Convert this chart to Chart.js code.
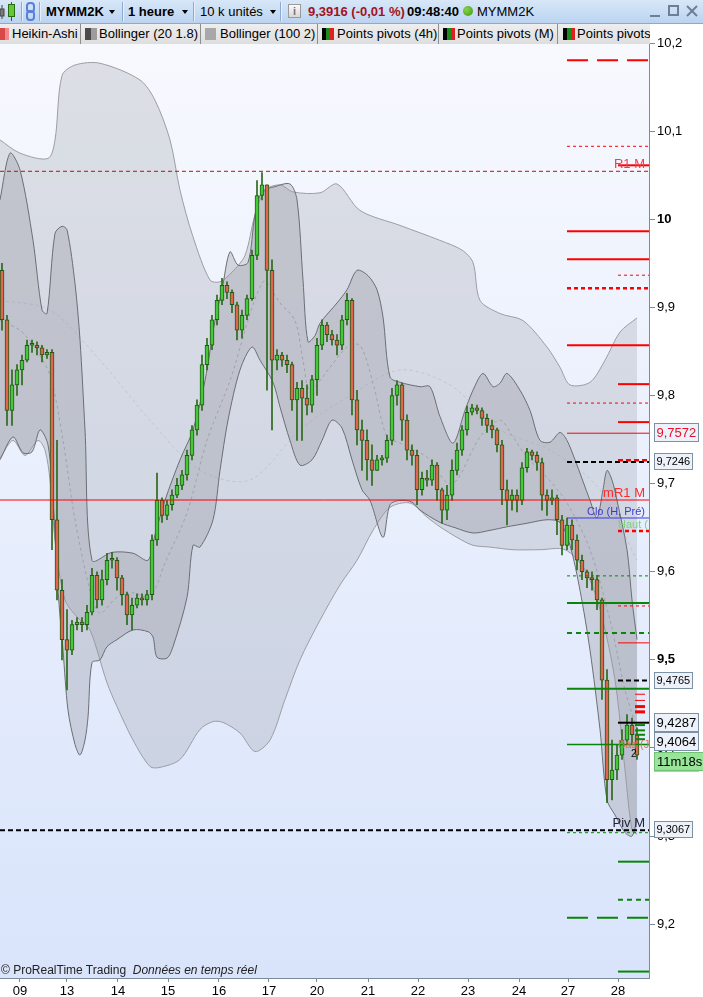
<!DOCTYPE html>
<html><head><meta charset="utf-8">
<script src="https://cdn.jsdelivr.net/npm/chart.js@4.4.1/dist/chart.umd.min.js"></script>
<style>
html,body{margin:0;padding:0;background:#fff;}
body{width:703px;height:997px;position:relative;overflow:hidden;font-family:"Liberation Sans",Arial,sans-serif;}
#c{position:absolute;left:0;top:0;}
#titlebar{position:absolute;left:0;top:0;width:703px;height:23px;background:linear-gradient(#d8e7f8,#bbd3f0);border-bottom:1px solid #8fa9c9;font-size:13px;color:#000;}
#titlebar span{position:absolute;top:4px;line-height:15px;white-space:nowrap;}
.sep{position:absolute;top:2px;width:1px;height:19px;background:#8eaad0;box-shadow:1px 0 0 #e6f0fb;}
.dd{position:absolute;top:10px;width:0;height:0;border-left:3.5px solid transparent;border-right:3.5px solid transparent;border-top:4px solid #000;}
#legend{position:absolute;left:0;top:24px;width:650px;height:20px;background:#e4e4e4;font-size:13px;overflow:hidden;}
.tab{position:absolute;top:0;height:20px;border-right:1px solid #8e8e8e;background:linear-gradient(#eeeeee,#dedede);overflow:hidden;}
.tab span{position:absolute;top:2px;white-space:nowrap;line-height:16px;color:#000;}
.ico{position:absolute;top:4px;height:12px;}
#footer{position:absolute;left:1px;top:963px;font-size:12px;line-height:15px;color:#222;white-space:nowrap;}
</style>
</head>
<body>
<canvas id="c" width="703" height="997" style="width:703px;height:997px"></canvas>

<div id="titlebar">
  <svg style="position:absolute;left:0;top:1px" width="18" height="21">
    <line x1="2" y1="4" x2="2" y2="18" stroke="#444"/>
    <rect x="0" y="8" width="4" height="7" fill="#7a7a7a" stroke="#444"/>
    <line x1="11.5" y1="1" x2="11.5" y2="20" stroke="#2a6a10"/>
    <rect x="8.5" y="3.5" width="6" height="12" fill="#62c836" stroke="#2a6a10"/>
  </svg>
  <div class="sep" style="left:21px"></div>
  <svg style="position:absolute;left:25px;top:2px" width="12" height="20">
    <rect x="2" y="1" width="7" height="9" rx="3" fill="none" stroke="#5a7fd8" stroke-width="2"/>
    <rect x="2" y="9" width="7" height="9" rx="3" fill="none" stroke="#5a7fd8" stroke-width="2"/>
  </svg>
  <div class="sep" style="left:39px"></div>
  <span style="left:46px;font-weight:bold">MYMM2K</span>
  <div class="dd" style="left:109px"></div>
  <div class="sep" style="left:122px"></div>
  <span style="left:128px;font-weight:bold">1 heure</span>
  <div class="dd" style="left:182px"></div>
  <div class="sep" style="left:193px"></div>
  <span style="left:200px">10 k unités</span>
  <div class="dd" style="left:270px"></div>
  <div class="sep" style="left:280px"></div>
  <div style="position:absolute;left:288px;top:4px;width:13px;height:14px;background:linear-gradient(#fafafa,#d8d8d8);border:1px solid #9a9a9a;box-sizing:border-box;font-size:11px;line-height:12px;text-align:center;color:#777;font-weight:bold">i</div>
  <span style="left:308px;font-weight:bold;color:#a3121c">9,3916 (-0,01 %)</span>
  <span style="left:407px;font-weight:bold">09:48:40</span>
  <div style="position:absolute;left:463px;top:6px;width:10px;height:10px;border-radius:50%;background:radial-gradient(circle at 35% 35%,#8ad050,#3c9a10)"></div>
  <span style="left:477px">MYMM2K</span>
  <div style="position:absolute;left:650px;top:15px;width:10px;height:2px;background:#6d7f94"></div>
  <div style="position:absolute;left:668px;top:5px;width:11px;height:11px;border:2px solid #6d7f94;box-sizing:border-box"></div>
  <svg style="position:absolute;left:686px;top:5px" width="12" height="12">
    <line x1="1" y1="1" x2="11" y2="11" stroke="#6d7f94" stroke-width="2"/>
    <line x1="11" y1="1" x2="1" y2="11" stroke="#6d7f94" stroke-width="2"/>
  </svg>
</div>

<div id="legend">
  <div class="tab" style="left:0;width:80px">
    <div class="ico" style="left:0;width:9px;background:linear-gradient(90deg,#d84848 0 55%,#f08a8a 55%)"></div>
    <span style="left:12px">Heikin-Ashi</span>
  </div>
  <div class="tab" style="left:81px;width:119px">
    <div class="ico" style="left:4px;width:12px;background:linear-gradient(90deg,#4a4a4a 0 50%,#9c9c9c 50%)"></div>
    <span style="left:18px">Bollinger (20 1.8)</span>
  </div>
  <div class="tab" style="left:201px;width:116px">
    <div class="ico" style="left:4px;width:11px;background:#a8a8a8"></div>
    <span style="left:19px">Bollinger (100 2)</span>
  </div>
  <div class="tab" style="left:318px;width:120px">
    <div class="ico" style="left:4px;width:12px;background:linear-gradient(90deg,#000 0 33%,#1a8a1a 33% 66%,#e02020 66%)"></div>
    <span style="left:19px">Points pivots (4h)</span>
  </div>
  <div class="tab" style="left:439px;width:118px">
    <div class="ico" style="left:4px;width:12px;background:linear-gradient(90deg,#000 0 33%,#1a8a1a 33% 66%,#e02020 66%)"></div>
    <span style="left:18px">Points pivots (M)</span>
  </div>
  <div class="tab" style="left:558px;width:92px;border-right:none">
    <div class="ico" style="left:5px;width:12px;background:linear-gradient(90deg,#000 0 33%,#1a8a1a 33% 66%,#e02020 66%)"></div>
    <span style="left:19px">Points pivots</span>
  </div>
</div>

<div id="footer">© ProRealTime Trading&nbsp; <i>Données en temps réel</i></div>

<script>
// ---------------- DATA ----------------
const dayLabels = ['09','13','14','15','16','17','20','21','22','23','24','27','28'];
const dayTickIdx = [3.6,13,23.2,33.2,43.4,53.4,63,73.2,83.2,93.2,103.4,113.2,123.2];
const yTickValues = [9.2,9.3,9.4,9.5,9.6,9.7,9.8,9.9,10.0,10.1,10.2];

// Heikin-Ashi candles (1 hour)
const haOpen = [9.942,9.886,9.783,9.812,9.829,9.840,9.857,9.857,9.854,9.846,
9.849,9.659,9.579,9.523,9.511,9.540,9.543,9.540,9.554,9.596,
9.568,9.591,9.613,9.613,9.593,9.574,9.551,9.562,9.570,9.568,
9.574,9.636,9.681,9.664,9.676,9.687,9.698,9.710,9.732,9.761,
9.789,9.835,9.857,9.886,9.908,9.925,9.917,9.903,9.874,9.891,
9.910,9.959,10.027,10.039,9.942,9.840,9.846,9.840,9.835,9.795,
9.808,9.797,9.789,9.818,9.857,9.880,9.869,9.863,9.857,9.886,
9.908,9.795,9.761,9.749,9.727,9.715,9.727,9.729,9.749,9.800,
9.812,9.772,9.738,9.732,9.693,9.706,9.704,9.721,9.693,9.670,
9.687,9.715,9.738,9.761,9.781,9.786,9.783,9.774,9.766,9.761,
9.744,9.693,9.681,9.687,9.681,9.718,9.736,9.732,9.724,9.687,
9.681,9.684,9.659,9.630,9.653,9.636,9.613,9.600,9.593,9.591,
9.568,9.477,9.364,9.375,9.392,9.409,9.426,9.415];
const haHigh = [9.950,9.891,9.829,9.835,9.846,9.863,9.863,9.861,9.857,9.852,
9.852,9.749,9.591,9.557,9.545,9.548,9.548,9.562,9.604,9.600,
9.602,9.621,9.622,9.616,9.596,9.577,9.570,9.575,9.575,9.579,
9.642,9.712,9.684,9.681,9.693,9.706,9.715,9.738,9.766,9.795,
9.846,9.865,9.891,9.914,9.933,9.929,9.920,9.906,9.897,9.914,
9.965,10.044,10.053,10.039,9.954,9.852,9.849,9.846,9.838,9.815,
9.817,9.812,9.823,9.865,9.886,9.883,9.874,9.869,9.891,9.916,
9.910,9.806,9.772,9.761,9.744,9.732,9.732,9.755,9.808,9.817,
9.814,9.778,9.744,9.738,9.713,9.715,9.727,9.724,9.695,9.698,
9.727,9.746,9.766,9.788,9.790,9.789,9.786,9.779,9.772,9.763,
9.749,9.704,9.693,9.693,9.724,9.740,9.738,9.736,9.729,9.693,
9.693,9.687,9.664,9.661,9.659,9.642,9.619,9.602,9.600,9.596,
9.570,9.489,9.409,9.404,9.421,9.438,9.434,9.423];
const haLow = [9.874,9.766,9.766,9.800,9.812,9.838,9.849,9.846,9.838,9.842,
9.625,9.568,9.500,9.466,9.506,9.534,9.532,9.534,9.551,9.559,
9.562,9.585,9.604,9.579,9.562,9.540,9.534,9.559,9.562,9.562,
9.568,9.630,9.656,9.659,9.670,9.684,9.693,9.704,9.727,9.755,
9.783,9.829,9.852,9.880,9.903,9.910,9.894,9.863,9.865,9.886,
9.908,9.954,10.022,9.806,9.761,9.829,9.833,9.826,9.783,9.749,
9.749,9.778,9.781,9.800,9.852,9.861,9.857,9.846,9.852,9.880,
9.778,9.744,9.715,9.704,9.698,9.715,9.721,9.724,9.744,9.789,
9.749,9.727,9.721,9.676,9.687,9.697,9.698,9.681,9.655,9.659,
9.681,9.710,9.732,9.755,9.778,9.779,9.766,9.758,9.752,9.736,
9.676,9.653,9.670,9.668,9.676,9.713,9.727,9.715,9.670,9.664,
9.676,9.642,9.619,9.625,9.625,9.602,9.591,9.582,9.579,9.557,
9.455,9.338,9.341,9.364,9.387,9.404,9.404,9.387];
const haClose = [9.886,9.783,9.812,9.829,9.840,9.857,9.857,9.854,9.846,9.849,
9.659,9.579,9.523,9.511,9.540,9.543,9.540,9.554,9.596,9.568,
9.591,9.613,9.613,9.593,9.574,9.551,9.562,9.570,9.568,9.574,
9.636,9.681,9.664,9.676,9.687,9.698,9.710,9.732,9.761,9.789,
9.835,9.857,9.886,9.908,9.925,9.917,9.903,9.874,9.891,9.910,
9.959,10.027,10.039,9.942,9.840,9.846,9.840,9.835,9.795,9.808,
9.797,9.789,9.818,9.857,9.880,9.869,9.863,9.857,9.886,9.908,
9.795,9.761,9.749,9.727,9.715,9.727,9.729,9.749,9.800,9.812,
9.772,9.738,9.732,9.693,9.706,9.704,9.721,9.693,9.670,9.687,
9.715,9.738,9.761,9.781,9.786,9.783,9.774,9.766,9.761,9.744,
9.693,9.681,9.687,9.681,9.718,9.736,9.732,9.724,9.687,9.681,
9.684,9.659,9.630,9.653,9.636,9.613,9.600,9.593,9.591,9.568,
9.477,9.364,9.375,9.392,9.409,9.426,9.415,9.392];

// Bollinger (100, 2)
const bb100UpperIdx = [-0.4,3.6,9.2,10.6,12,14.6,19.6,27.6,30.6,33.6,35.6,38.2,41.6,43.6,46,48.6,50.6,52.6,55.6,58.2,63.6,67,71.6,79.6,87.6,92,94.2,95.6,99.6,104.2,109,111.6,113.6,117.6,120.6,123.6,127];
const bb100Upper = [10.090,10.075,10.069,10.090,10.163,10.175,10.177,10.158,10.135,10.090,10.033,9.980,9.931,9.929,9.940,9.959,10.005,10.033,10.039,10.031,10.030,10.040,10.010,9.993,9.976,9.965,9.951,9.908,9.893,9.885,9.855,9.832,9.812,9.815,9.840,9.872,9.888];
const bb100LowerIdx = [-0.4,2.2,4.6,7.2,8.6,9.6,10.6,12.6,15.6,17.6,21,23,26.2,29.6,31.6,35.6,39.6,42.2,44.2,47.6,50.6,53.6,56.6,59.6,63.6,67.6,71,74.2,77.6,81.6,85,87.6,91,94.2,97.6,102.2,107.6,112.6,116.6,119.6,122.6,124.6,126,127];
const bb100Lower = [9.729,9.749,9.732,9.749,9.738,9.704,9.636,9.568,9.545,9.534,9.474,9.447,9.409,9.379,9.378,9.387,9.421,9.430,9.429,9.417,9.396,9.409,9.455,9.500,9.545,9.585,9.613,9.647,9.673,9.678,9.662,9.651,9.639,9.630,9.628,9.625,9.625,9.625,9.602,9.557,9.477,9.375,9.307,9.302];
const bb100MidIdx = [-0.4,9.6,19.6,29.6,39.6,49.6,59.6,69.6,79.6,89.6,99.6,109.6,119.6,127];
const bb100Mid = [9.908,9.897,9.840,9.772,9.715,9.704,9.761,9.800,9.829,9.812,9.761,9.738,9.693,9.613];

// Bollinger (20, 1.8)
const bb20UpperIdx = [-0.4,1.6,3.6,6.2,8,9,10.6,12,13,14.6,15.6,16.6,18,22,26.2,29.2,30.6,32.6,35.6,38.2,40.6,42.6,44,45.6,47.2,49.2,50.6,52,54.6,57.6,59,60.2,61.2,62.6,63.6,67,69,71,73.2,75,76.2,77.6,79.6,83.6,85.6,87.6,90.2,92.6,94.2,96.2,98.2,99.6,101,103.6,105.6,107.6,109.6,111.6,113,114.6,117.6,119,120.2,121,122,123,125,126,127];
const bb20Upper = [10.022,10.075,10.056,9.976,9.897,9.893,9.984,9.992,9.988,9.927,9.863,9.761,9.613,9.622,9.621,9.613,9.642,9.681,9.727,9.761,9.817,9.885,9.920,9.963,9.948,9.951,10.005,10.031,10.037,10.040,10.022,9.931,9.861,9.868,9.882,9.905,9.920,9.942,9.936,9.920,9.889,9.821,9.815,9.810,9.810,9.776,9.746,9.783,9.806,9.825,9.810,9.814,9.825,9.806,9.783,9.749,9.747,9.758,9.749,9.727,9.681,9.661,9.693,9.715,9.704,9.681,9.625,9.568,9.523];
const bb20LowerIdx = [-0.4,2.2,4.2,6,7.6,9.2,10.2,11.2,12.2,13.2,14.6,15.6,16.6,17.2,18,19.6,21,23,26.2,29.2,30.2,31,33,34.2,37,38.2,39.6,42.2,43.6,45.2,47.6,50,51.6,54.2,55.6,57.6,59.6,62,64,66,68,70,72,73.6,76.2,77.6,79.6,82,83.6,87.6,90.6,94.2,97.6,101,105,109,111.6,113.6,115.6,117.6,119.6,121,122.6,124.6,126,127];
const bb20Lower = [9.727,9.753,9.735,9.736,9.761,9.744,9.681,9.579,9.511,9.443,9.404,9.392,9.409,9.435,9.497,9.500,9.515,9.523,9.534,9.532,9.526,9.503,9.502,9.515,9.571,9.630,9.628,9.659,9.715,9.772,9.829,9.855,9.840,9.815,9.787,9.749,9.721,9.727,9.749,9.772,9.763,9.727,9.693,9.681,9.639,9.676,9.681,9.679,9.670,9.656,9.650,9.644,9.647,9.651,9.655,9.659,9.656,9.630,9.579,9.511,9.421,9.341,9.324,9.304,9.300,9.319];
const bb20MidIdx = [-0.4,3.6,6.2,9.6,12.2,14.6,17.6,19.6,23,26.2,29.6,32.6,37,41,45.6,52.2,55.6,58.6,60.2,61.6,65.6,69,71.6,74.2,77,79.6,85,89,91,95.6,99.6,102.2,105,109,113,117.6,121.6,124.6,127];
const bb20Mid = [9.885,9.874,9.857,9.823,9.749,9.659,9.579,9.553,9.571,9.576,9.571,9.610,9.667,9.749,9.817,9.929,9.905,9.885,9.840,9.806,9.832,9.855,9.857,9.814,9.753,9.746,9.730,9.701,9.704,9.753,9.772,9.753,9.730,9.707,9.678,9.625,9.545,9.466,9.421];

// Pivot levels
const pivotMonthStart = 113;
const pivot4hStart = 123.2;
const pivotCurStart = 126.6;
const pivotsMonthly = [10.1803,10.0828,9.9864,9.9546,9.9218,9.8571,9.7914,9.7572,9.7246,9.6610,9.5953,9.5646,9.5306,9.4671,9.4040,9.3039,9.2075];
const pivots4h = [10.0612,9.9365,9.8129,9.7698,9.7265,9.6463,9.6463,9.5612,9.5193,9.4765,9.4287,9.2710,9.2279,9.1463];
const pivotsFull = [10.0544,9.6814,9.3067];
const pivotsCurRed = [9.461,9.454,9.447,9.441];
const pivotsCurGreen = [9.426,9.420,9.415,9.410];

const pivotLabelTexts = ['R1 M','mR1 M','Clo (H, Pré)','Haut (','Piv M','Bas (J','2'];
const pivotLabelPrices = [10.0544,9.6814,9.6610,9.6463,9.3067,9.4040,9.3930];

const axisBoxValues = [9.7572,9.7246,9.4765,9.4287,9.4064,9.3067];
const lastPrice = 9.3916;
const countdownText = '11m18s';

// ---------------- STYLES ----------------
const FONT = '"Liberation Sans", Arial, sans-serif';
const RED = '#ff0000', GRN = '#0a850a', BLK = '#000000', BLU = '#3a3ae0';
const monthStyles = [
  {c:RED,w:2,d:[21,9]},{c:RED,w:1,d:[3,3]},{c:RED,w:2,d:[]},{c:RED,w:2,d:[]},
  {c:RED,w:2.5,d:[4,3]},{c:RED,w:2,d:[]},{c:RED,w:1,d:[3,3]},{c:RED,w:1,d:[]},
  {c:BLK,w:2,d:[5,3]},{c:BLU,w:1,d:[]},{c:GRN,w:1,d:[3,3]},{c:GRN,w:2,d:[]},
  {c:GRN,w:2,d:[5,4]},{c:GRN,w:2,d:[]},{c:GRN,w:1.5,d:[]},{c:GRN,w:1,d:[3,3]},
  {c:GRN,w:2,d:[21,9]}
];
const h4Styles = [
  {c:RED,w:2,d:[]},{c:RED,w:1,d:[3,3]},{c:RED,w:2,d:[]},{c:RED,w:2,d:[]},
  {c:RED,w:2.5,d:[5,3]},{c:RED,w:2.5,d:[4,3]},{c:'#6ccf6c',w:1,d:[2,5]},{c:RED,w:1,d:[3,3]},
  {c:RED,w:1,d:[]},{c:BLK,w:2,d:[5,3]},{c:BLK,w:2,d:[]},{c:GRN,w:2,d:[]},
  {c:GRN,w:2,d:[5,4]},{c:GRN,w:2,d:[]}
];
const fullStyles = [{c:'#e00000',w:1,d:[4,3]},{c:RED,w:1,d:[]},{c:BLK,w:2,d:[5,3]}];

const labelStyles = [
  {color:'#f23a52',size:13,anchor:'right',dy:-3,base:'alphabetic'},
  {color:'#ff2a2a',size:13,anchor:'right',dy:-3,base:'alphabetic'},
  {color:'#3a3ad2',size:11,anchor:'right',dy:-3,base:'alphabetic'},
  {color:'#7fd07f',size:11,anchor:'h4',dy:-3,base:'alphabetic'},
  {color:'#23233a',size:13,anchor:'right',dy:-3,base:'alphabetic'},
  {color:'#e26a58',size:11,anchor:'h4',dy:0,base:'middle'},
  {color:'#000000',size:10,anchor:'h4',dx:13,dy:0,base:'middle'}
];
const boxStyles = [
  {color:'#e8102a',size:13},{color:'#000',size:11},{color:'#000',size:11},
  {color:'#000',size:13},{color:'#000',size:13},{color:'#000',size:11}
];

// ---------------- BUILD ----------------
const pts = (xs, ys) => xs.map((x, i) => ({x, y: ys[i]}));
const idx = haClose.map((_, i) => i);
const upCol = '#45c83a', dnCol = '#e0664f';

function bandLine(xs, ys, color, order, extra) {
  return Object.assign({type:'line', data: pts(xs, ys), borderColor: color, borderWidth: 1,
    pointRadius: 0, tension: 0.3, fill: false, order}, extra || {});
}
function hLine(price, x0, x1, st) {
  return {type:'line', data:[{x:x0,y:price},{x:x1,y:price}], borderColor: st.c, borderWidth: st.w,
    borderDash: st.d, pointRadius: 0, fill: false, tension: 0, order: 0, borderCapStyle: 'butt'};
}

const XMIN = -0.4, XMAX = 129.4;
const datasets = [
  bandLine(bb100UpperIdx, bb100Upper, '#9c9ea4', 30, {fill:'+1', backgroundColor:'rgba(160,162,172,0.30)'}),
  bandLine(bb100LowerIdx, bb100Lower, '#9c9ea4', 29),
  bandLine(bb100MidIdx, bb100Mid, 'rgba(170,172,180,0.45)', 28, {borderDash:[3,3]}),
  bandLine(bb20UpperIdx, bb20Upper, '#6c6e74', 27, {fill:'+1', backgroundColor:'rgba(148,150,158,0.33)'}),
  bandLine(bb20LowerIdx, bb20Lower, '#6c6e74', 26),
  bandLine(bb20MidIdx, bb20Mid, '#a0a2a8', 25, {borderDash:[3,3]}),
  {type:'bar', data: idx.map(i => ({x:i, y:[haLow[i], haHigh[i]]})), backgroundColor:'#2a6818',
    barThickness: 1, grouped: false, order: 3, borderWidth: 0},
  {type:'bar', data: idx.map(i => ({x:i, y:[haOpen[i], haClose[i]]})),
    backgroundColor: idx.map(i => haClose[i] >= haOpen[i] ? upCol : dnCol),
    borderColor:'#1f5a12', borderWidth: 1, borderSkipped: false, barThickness: 4,
    minBarLength: 2, grouped: false, order: 2}
];
pivotsMonthly.forEach((p, i) => datasets.push(hLine(p, pivotMonthStart, XMAX, monthStyles[i])));
pivots4h.forEach((p, i) => datasets.push(hLine(p, pivot4hStart, XMAX, h4Styles[i])));
pivotsFull.forEach((p, i) => datasets.push(hLine(p, XMIN, XMAX, fullStyles[i])));
pivotsCurRed.forEach((p, i) => datasets.push(hLine(p, pivotCurStart, pivotCurStart + 2, {c:RED, w: i < 2 ? 1 : 3, d:[]})));
pivotsCurGreen.forEach(p => datasets.push(hLine(p, pivotCurStart, pivotCurStart + 2, {c:GRN, w:2, d:[]})));

const fmt = v => (Math.round(v * 10) / 10).toString().replace('.', ',');
const fmt4 = v => v.toFixed(4).replace('.', ',');

const bgPlugin = {
  id: 'bg',
  beforeDraw(chart) {
    const {ctx, chartArea: a} = chart;
    ctx.save();
    ctx.fillStyle = '#ffffff';
    ctx.fillRect(0, 0, chart.width, chart.height);
    const g = ctx.createLinearGradient(0, a.top, 0, a.bottom);
    g.addColorStop(0, '#f7f9fe');
    g.addColorStop(1, '#d9e4fb');
    ctx.fillStyle = g;
    ctx.fillRect(a.left, a.top, a.right - a.left, a.bottom - a.top);
    ctx.restore();
  }
};

const labelPlugin = {
  id: 'pivotLabels',
  afterDatasetsDraw(chart) {
    const {ctx, chartArea: a, scales: {x, y}} = chart;
    ctx.save();
    ctx.beginPath();
    ctx.rect(a.left, a.top, a.right - a.left, a.bottom - a.top);
    ctx.clip();
    pivotLabelTexts.forEach((t, i) => {
      const s = labelStyles[i];
      ctx.font = s.size + 'px ' + FONT;
      ctx.fillStyle = s.color;
      ctx.textBaseline = s.base;
      const py = y.getPixelForValue(pivotLabelPrices[i]) + s.dy;
      if (s.anchor === 'right') {
        ctx.textAlign = 'right';
        ctx.fillText(t, a.right - 4, py);
      } else {
        ctx.textAlign = 'left';
        ctx.fillText(t, x.getPixelForValue(pivot4hStart) + (s.dx || 0), py);
      }
    });
    ctx.restore();
  }
};

const boxPlugin = {
  id: 'axisBoxes',
  afterDraw(chart) {
    const {ctx, scales: {y}} = chart;
    const left = chart.chartArea.right + 5;
    ctx.save();
    ctx.textBaseline = 'middle';
    ctx.textAlign = 'left';
    let lastBottom = 0;
    axisBoxValues.forEach((v, i) => {
      const s = boxStyles[i];
      const t = fmt4(v);
      ctx.font = s.size + 'px ' + FONT;
      const w = Math.round(ctx.measureText(t).width) + 5;
      const h = s.size + 6;
      const cy = Math.round(y.getPixelForValue(v));
      let top = cy - Math.round(h / 2);
      ctx.fillStyle = '#edf2fa';
      ctx.fillRect(left, top, w, h);
      ctx.strokeStyle = '#7d91a4';
      ctx.lineWidth = 1;
      ctx.strokeRect(left + 0.5, top + 0.5, w - 1, h - 1);
      ctx.fillStyle = s.color;
      ctx.fillText(t, left + 2.5, top + h / 2 + 0.5);
      if (i === 4) lastBottom = top + h;
    });
    // countdown box under the current price box
    ctx.font = '13px ' + FONT;
    const tw = Math.round(ctx.measureText(countdownText).width) + 6;
    const ch = 19;
    const ctop = Math.max(Math.round(y.getPixelForValue(lastPrice)) - 4, lastBottom + 1);
    ctx.fillStyle = '#98e498';
    ctx.fillRect(left, ctop, tw, ch);
    ctx.fillStyle = '#e6cf22';
    ctx.fillRect(left, ctop + ch - 2, tw - 6, 3);
    ctx.strokeStyle = '#74c074';
    ctx.strokeRect(left + 0.5, ctop + 0.5, tw - 1, ch - 1);
    ctx.fillStyle = '#000';
    ctx.fillText(countdownText, left + 3, ctop + ch / 2 + 0.5);
    ctx.restore();
  }
};

Chart.defaults.font.family = FONT;
new Chart(document.getElementById('c'), {
  type: 'bar',
  data: { datasets },
  options: {
    responsive: false,
    maintainAspectRatio: false,
    devicePixelRatio: 1,
    animation: false,
    events: [],
    layout: { padding: { top: 43, left: 0, right: 0, bottom: 0 } },
    plugins: { legend: { display: false }, tooltip: { enabled: false } },
    scales: {
      x: {
        type: 'linear', min: XMIN, max: XMAX, offset: false,
        grid: { drawOnChartArea: false, offset: false, tickLength: 4, color: '#7b8b9b' },
        border: { color: '#7b8b9b' },
        afterBuildTicks: s => { s.ticks = dayTickIdx.map(v => ({ value: v })); },
        afterFit: s => { s.height = 19; },
        ticks: { autoSkip: false, maxRotation: 0, padding: 2, color: '#000',
          font: { size: 13, family: FONT },
          callback: (v, i) => dayLabels[i] }
      },
      y: {
        type: 'linear', position: 'right', min: 9.139, max: 10.2,
        grid: { drawOnChartArea: false, tickLength: 6, color: '#7b8b9b' },
        border: { color: '#7b8b9b' },
        afterBuildTicks: s => { s.ticks = yTickValues.map(v => ({ value: v })); },
        afterFit: s => { s.width = 54; },
        ticks: { padding: 2, color: '#000',
          font: ctx => ({ size: 13, family: FONT,
            weight: (ctx.tick && (Math.abs(ctx.tick.value - 10) < 1e-6 || Math.abs(ctx.tick.value - 9.5) < 1e-6)) ? 'bold' : 'normal' }),
          callback: v => fmt(v) }
      }
    }
  },
  plugins: [bgPlugin, labelPlugin, boxPlugin]
});
</script>
</body></html>
